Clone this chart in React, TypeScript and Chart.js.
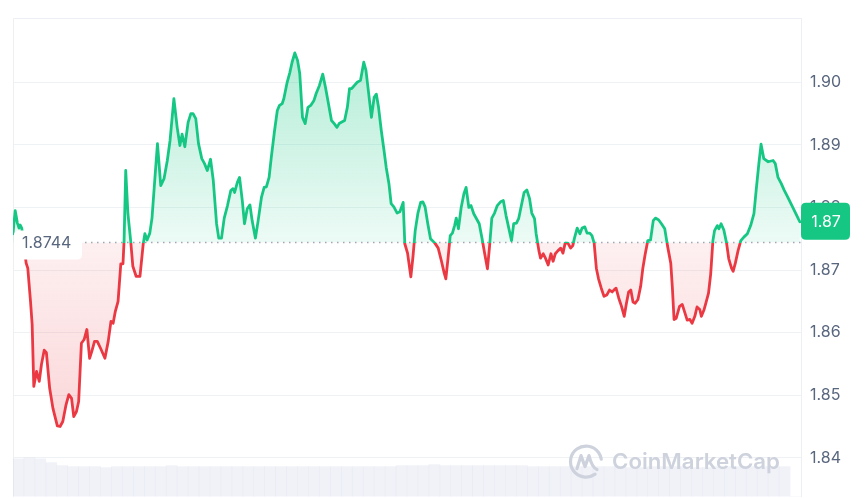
import React, { useEffect, useRef } from "react";
import { Chart, registerables } from "chart.js";

Chart.register(...registerables);

// minutes since start of the 24h window
const minutes = [
  0, 4, 8, 11, 13, 16, 20, 24, 27, 32, 35, 38, 43, 48, 52, 57, 61, 67, 73, 81,
  86, 91, 97, 102, 107, 111, 116, 120, 125, 130, 135, 140, 144, 149, 154, 160, 168, 174, 179, 183,
  187, 192, 197, 201, 203, 206, 210, 215, 219, 225, 232, 238, 241, 245, 250, 254, 259, 264, 270, 276,
  282, 287, 294, 300, 305, 309, 314, 320, 325, 329, 334, 339, 345, 350, 355, 361, 366, 372, 376, 381,
  386, 392, 398, 402, 405, 410, 414, 419, 423, 428, 433, 437, 443, 448, 454, 459, 463, 468, 472, 478,
  483, 487, 492, 495, 501, 506, 510, 515, 520, 524, 529, 534, 539, 544, 550, 554, 560, 566, 571, 576,
  582, 587, 592, 596, 600, 606, 611, 615, 619, 624, 629, 635, 641, 645, 650, 655, 660, 664, 668, 673,
  678, 682, 687, 691, 696, 702, 707, 713, 716, 721, 727, 731, 735, 740, 745, 749, 753, 758, 763, 771,
  777, 783, 788, 791, 795, 799, 803, 807, 810, 814, 819, 824, 828, 833, 837, 842, 847, 852, 857, 862,
  867, 871, 875, 880, 885, 891, 896, 901, 906, 911, 915, 920, 924, 929, 934, 939, 944, 948, 953, 956,
  961, 964, 969, 973, 978, 983, 987, 991, 996, 1001, 1005, 1009, 1014, 1019, 1023, 1026, 1031, 1036, 1040, 1045,
  1049, 1054, 1058, 1062, 1066, 1070, 1075, 1080, 1085, 1090, 1095, 1098, 1102, 1107, 1112, 1117, 1121, 1125, 1129, 1133,
  1137, 1142, 1147, 1151, 1155, 1160, 1165, 1170, 1174, 1180, 1185, 1191, 1196, 1202, 1205, 1208, 1212, 1218, 1223, 1227,
  1232, 1237, 1241, 1246, 1250, 1255, 1258, 1263, 1267, 1271, 1275, 1279, 1282, 1287, 1290, 1294, 1299, 1304, 1308, 1313,
  1316, 1320, 1325, 1330, 1336, 1342, 1348, 1354, 1358, 1363, 1367, 1372, 1380, 1389, 1393, 1398, 1404, 1409, 1416, 1425,
  1435, 1438,
];

const prices = [
  1.8758, 1.8795, 1.8775, 1.8767, 1.8772, 1.8767, 1.8739, 1.8711, 1.8703, 1.865, 1.8613, 1.8514, 1.8538, 1.8522, 1.8549, 1.8572, 1.8568, 1.8511, 1.8479, 1.8451,
  1.845, 1.8458, 1.8485, 1.8501, 1.8495, 1.8466, 1.8474, 1.849, 1.8583, 1.8589, 1.8605, 1.8559, 1.857, 1.8586, 1.8586, 1.8575, 1.8559, 1.8586, 1.8618, 1.8615,
  1.8634, 1.865, 1.871, 1.871, 1.8747, 1.8859, 1.879, 1.8747, 1.8706, 1.869, 1.869, 1.8742, 1.8758, 1.8748, 1.8759, 1.8783, 1.8843, 1.8902, 1.8835, 1.8846,
  1.8875, 1.8907, 1.8974, 1.8928, 1.8899, 1.8917, 1.8897, 1.8936, 1.895, 1.895, 1.8942, 1.8902, 1.8878, 1.887, 1.8859, 1.8877, 1.8843, 1.8774, 1.8751, 1.8751,
  1.8783, 1.8803, 1.8827, 1.883, 1.8824, 1.884, 1.8848, 1.8811, 1.8774, 1.8798, 1.8804, 1.8779, 1.8751, 1.8779, 1.8816, 1.8832, 1.8833, 1.8848, 1.888, 1.8923,
  1.8955, 1.8963, 1.8966, 1.8974, 1.9, 1.9016, 1.9032, 1.9047, 1.9035, 1.9014, 1.8944, 1.8934, 1.896, 1.8963, 1.8971, 1.8982, 1.8995, 1.9013, 1.8992, 1.8968,
  1.8939, 1.8934, 1.8928, 1.8934, 1.8936, 1.8939, 1.896, 1.899, 1.899, 1.8995, 1.9, 1.9003, 1.9032, 1.9019, 1.8982, 1.8944, 1.8976, 1.8981, 1.896, 1.8923,
  1.8891, 1.8864, 1.8838, 1.8806, 1.8801, 1.8791, 1.8793, 1.8808, 1.8742, 1.8727, 1.8689, 1.8722, 1.8763, 1.8791, 1.8808, 1.8809, 1.8801, 1.8774, 1.875, 1.8743,
  1.8735, 1.8714, 1.8695, 1.8686, 1.8719, 1.8755, 1.8759, 1.8771, 1.8783, 1.8766, 1.88, 1.8822, 1.8832, 1.88, 1.8803, 1.879, 1.8782, 1.8774, 1.8751, 1.8726,
  1.8702, 1.8739, 1.8783, 1.8791, 1.8803, 1.8809, 1.8811, 1.8787, 1.8767, 1.8747, 1.8774, 1.8775, 1.8782, 1.8803, 1.8824, 1.8828, 1.8814, 1.8791, 1.8782, 1.8758,
  1.8731, 1.8719, 1.8726, 1.8719, 1.8708, 1.8726, 1.8714, 1.8726, 1.8731, 1.8735, 1.8727, 1.8743, 1.8743, 1.8735, 1.8739, 1.8751, 1.8767, 1.8758, 1.8767, 1.8769,
  1.8759, 1.8759, 1.8755, 1.8743, 1.8703, 1.8686, 1.8671, 1.8658, 1.866, 1.8668, 1.8665, 1.8668, 1.8671, 1.8655, 1.8642, 1.8626, 1.8647, 1.8665, 1.8668, 1.8649,
  1.8647, 1.8653, 1.8674, 1.8703, 1.8724, 1.8747, 1.8748, 1.8779, 1.8783, 1.878, 1.8774, 1.8766, 1.8739, 1.8711, 1.8671, 1.8621, 1.8623, 1.8642, 1.8645, 1.8634,
  1.862, 1.8621, 1.8615, 1.8626, 1.8641, 1.8637, 1.8626, 1.8637, 1.865, 1.8663, 1.8694, 1.8747, 1.8763, 1.8771, 1.8766, 1.8774, 1.8764, 1.8743, 1.8718, 1.8703,
  1.8698, 1.8711, 1.8731, 1.8747, 1.8753, 1.8758, 1.8771, 1.879, 1.8827, 1.887, 1.8901, 1.8878, 1.8873, 1.8875, 1.887, 1.8848, 1.8838, 1.8828, 1.8816, 1.88,
  1.8782, 1.8777,
];

// volume per 20-minute bin
const volumes = [
  3.8, 3.9, 3.8, 3.4, 3.1, 3.0, 3.0, 3.0, 2.9, 3.0, 3.0, 3.0,
  3.0, 3.0, 3.1, 3.0, 3.0, 3.0, 3.0, 3.0, 3.0, 3.0, 3.0, 3.0,
  3.0, 3.0, 3.0, 3.0, 3.0, 3.0, 3.0, 3.0, 3.0, 3.0, 3.0, 3.1,
  3.1, 3.1, 3.2, 3.1, 3.1, 3.1, 3.1, 3.1, 3.1, 3.1, 3.1, 3.0,
  3.0, 3.0, 3.0, 3.0, 3.0, 3.0, 3.0, 3.0, 2.9, 2.9, 3.0, 3.0,
  3.0, 3.0, 2.9, 2.9, 3.0, 3.0, 3.0, 3.0, 3.0, 3.0, 3.0, 0,
];
const volumeBinMinutes = 20;

const baseline = 1.8744;
const yTicks = [1.84, 1.85, 1.86, 1.87, 1.88, 1.89, 1.9];
const yMin = 1.8338;
const yMax = 1.91027;
const volumeMax = 48;

const GREEN = "#16c784";
const RED = "#ea3943";

function roundRect(ctx: CanvasRenderingContext2D, x: number, y: number, w: number, h: number, r: number) {
  ctx.beginPath();
  ctx.moveTo(x + r, y);
  ctx.lineTo(x + w - r, y);
  ctx.quadraticCurveTo(x + w, y, x + w, y + r);
  ctx.lineTo(x + w, y + h - r);
  ctx.quadraticCurveTo(x + w, y + h, x + w - r, y + h);
  ctx.lineTo(x + r, y + h);
  ctx.quadraticCurveTo(x, y + h, x, y + h - r);
  ctx.lineTo(x, y + r);
  ctx.quadraticCurveTo(x, y, x + r, y);
  ctx.closePath();
}

const decor = {
  id: "decor",
  beforeDatasetsDraw(chart: any) {
    const { ctx, chartArea: a, scales } = chart;
    const y = scales.y;
    ctx.save();
    ctx.strokeStyle = "#eceff3";
    ctx.lineWidth = 1;
    ctx.beginPath();
    ctx.moveTo(a.left + 0.5, a.bottom);
    ctx.lineTo(a.left + 0.5, a.top + 0.5);
    ctx.lineTo(a.right, a.top + 0.5);
    ctx.stroke();
    const by = Math.round(y.getPixelForValue(baseline)) + 0.5;
    ctx.strokeStyle = "#a1a9b8";
    ctx.lineWidth = 1.5;
    ctx.setLineDash([1.5, 4.5]);
    ctx.beginPath();
    ctx.moveTo(a.left + 72, by);
    ctx.lineTo(a.right, by);
    ctx.stroke();
    ctx.restore();
  },
  afterDatasetsDraw(chart: any) {
    const { ctx, chartArea: a, scales } = chart;
    const y = scales.y;
    ctx.save();
    const by = y.getPixelForValue(baseline);
    ctx.fillStyle = "#ffffff";
    roundRect(ctx, a.left + 1, by - 12, 68, 29, 5);
    ctx.fill();
    ctx.fillStyle = "#58667e";
    ctx.font = "16px Inter";
    ctx.textBaseline = "middle";
    ctx.textAlign = "left";
    ctx.fillText(baseline.toFixed(4), a.left + 9, by + 1);

    // watermark
    const wy = a.bottom - 35;
    const lx = a.right - 215;
    ctx.strokeStyle = "#cdd2dd";
    ctx.lineWidth = 3.2;
    ctx.lineCap = "round";
    ctx.lineJoin = "round";
    ctx.beginPath();
    ctx.arc(lx, wy, 15.5, 0.3 * Math.PI, 1.95 * Math.PI);
    ctx.stroke();
    ctx.beginPath();
    ctx.moveTo(lx - 9, wy + 7);
    ctx.lineTo(lx - 5, wy - 6);
    ctx.lineTo(lx - 1, wy + 5);
    ctx.lineTo(lx + 3, wy - 6);
    ctx.quadraticCurveTo(lx + 6, wy + 6, lx + 11, wy + 8);
    ctx.stroke();
    ctx.fillStyle = "#cdd2dd";
    ctx.font = "600 22px Inter";
    const label = "CoinMarketCap";
    const w = ctx.measureText(label).width;
    ctx.save();
    ctx.translate(lx + 26, wy);
    ctx.scale(168 / w, 1);
    ctx.fillText(label, 0, 1);
    ctx.restore();

    // current price badge
    const last = prices[prices.length - 1];
    const py = y.getPixelForValue(last);
    ctx.fillStyle = GREEN;
    roundRect(ctx, a.right, py - 19, 49, 37, 5);
    ctx.fill();
    ctx.fillStyle = "#ffffff";
    ctx.font = "16px Inter";
    ctx.textAlign = "center";
    ctx.fillText((Math.floor(last * 100) / 100).toFixed(2), a.right + 25, py);
    ctx.restore();
  },
};

export default function App() {
  const ref = useRef<HTMLCanvasElement | null>(null);
  useEffect(() => {
    if (!ref.current) return;
    const chart = new Chart(ref.current, {
      type: "line",
      data: {
        datasets: [
          {
            type: "line",
            data: minutes.map((m, i) => ({ x: m, y: prices[i] })),
            borderColor: GREEN,
            borderWidth: 2.8,
            borderJoinStyle: "round",
            borderCapStyle: "round",
            pointRadius: 0,
            tension: 0,
            fill: false,
            order: 0,
            yAxisID: "y",
          } as any,
          {
            type: "bar",
            data: volumes.map((v, i) => ({ x: i * volumeBinMinutes + volumeBinMinutes / 2, y: v })),
            backgroundColor: "rgba(214,219,236,0.35)",
            barPercentage: 1,
            categoryPercentage: 1,
            order: 1,
            yAxisID: "y2",
          } as any,
        ],
      },
      options: {
        responsive: false,
        maintainAspectRatio: false,
        animation: false,
        layout: { padding: { left: 13, top: 18, right: 0, bottom: 0 } },
        plugins: { legend: { display: false }, tooltip: { enabled: false } },
        scales: {
          x: { type: "linear", min: 0, max: 1440, display: false, offset: false },
          y: {
            position: "right",
            min: yMin,
            max: yMax,
            afterBuildTicks: (s: any) => {
              s.ticks = yTicks.map((v) => ({ value: v }));
            },
            afterFit: (s: any) => {
              s.width = 66;
              s.paddingTop = 0;
              s.paddingBottom = 0;
            },
            grid: { color: "#eff2f5", drawTicks: false },
            border: { display: true, color: "#eceff3" },
            ticks: {
              padding: 9,
              color: "#58667e",
              font: { family: "Inter", size: 16 },
              callback: (v: any) => Number(v).toFixed(2),
            },
          },
          y2: { display: false, min: 0, max: volumeMax },
        },
      } as any,
      plugins: [decor],
    });

    const a = chart.chartArea;
    const ys: any = chart.scales.y;
    const ctx = chart.ctx;
    const by = ys.getPixelForValue(baseline);
    const s = (by - a.top) / (a.bottom - a.top);
    const stroke = ctx.createLinearGradient(0, a.top, 0, a.bottom);
    stroke.addColorStop(0, GREEN);
    stroke.addColorStop(s, GREEN);
    stroke.addColorStop(s, RED);
    stroke.addColorStop(1, RED);
    const hi = ys.getPixelForValue(Math.max(...prices));
    const lo = ys.getPixelForValue(Math.min(...prices));
    const gFill = ctx.createLinearGradient(0, hi, 0, by);
    gFill.addColorStop(0, "rgba(22,199,132,0.32)");
    gFill.addColorStop(1, "rgba(22,199,132,0.08)");
    const rFill = ctx.createLinearGradient(0, by, 0, lo);
    rFill.addColorStop(0, "rgba(234,57,67,0.08)");
    rFill.addColorStop(1, "rgba(234,57,67,0.2)");
    const ds: any = chart.data.datasets[0];
    ds.borderColor = stroke;
    ds.fill = { target: { value: baseline }, above: gFill, below: rFill };
    chart.update();

    return () => chart.destroy();
  }, []);

  return (
    <div style={{ position: "fixed", left: 0, top: 0, width: 867, height: 498, background: "#ffffff" }}>
      <canvas ref={ref} width={867} height={498} style={{ width: 867, height: 498, display: "block" }} />
    </div>
  );
}
